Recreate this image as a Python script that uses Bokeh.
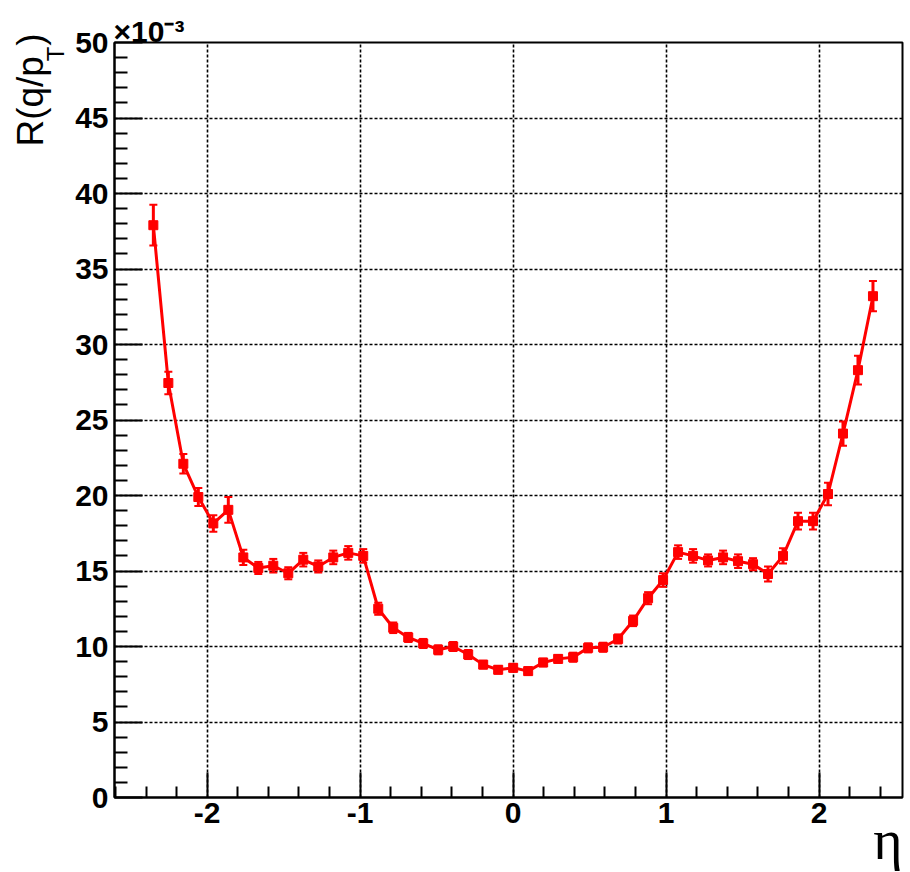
from bokeh.embed import file_html
from bokeh.models import (ColumnDataSource, FixedTicker, PrintfTickFormatter, Range1d,
                          TeeHead, Title, Whisker)
from bokeh.plotting import figure
from bokeh.resources import INLINE

# Bin centres in pseudorapidity
eta = [
    -2.352, -2.254, -2.156, -2.058, -1.960, -1.862, -1.764, -1.666, -1.568, -1.470,
    -1.372, -1.274, -1.176, -1.078, -0.980, -0.882, -0.784, -0.686, -0.588, -0.490,
    -0.392, -0.294, -0.196, -0.098, 0.000, 0.098, 0.196, 0.294, 0.392, 0.490,
    0.588, 0.686, 0.784, 0.882, 0.980, 1.078, 1.176, 1.274, 1.372, 1.470,
    1.568, 1.666, 1.764, 1.862, 1.960, 2.058, 2.156, 2.254, 2.352,
]

# q/pT resolution, in units of 10^-3
resolution = [
    37.9, 27.45, 22.1, 19.9, 18.15, 19.05, 15.9, 15.2, 15.35, 14.85,
    15.75, 15.3, 15.9, 16.2, 16.0, 12.5, 11.24, 10.6, 10.2, 9.78,
    10.0, 9.47, 8.8, 8.46, 8.59, 8.37, 8.94, 9.18, 9.29, 9.91,
    9.95, 10.5, 11.7, 13.2, 14.4, 16.25, 16.0, 15.7, 15.9, 15.65,
    15.45, 14.8, 16.0, 18.3, 18.3, 20.1, 24.1, 28.3, 33.2,
]

# statistical uncertainty, in units of 10^-3
resolution_err = [
    1.35, 0.75, 0.65, 0.6, 0.55, 0.85, 0.5, 0.4, 0.45, 0.4,
    0.45, 0.4, 0.45, 0.45, 0.45, 0.4, 0.35, 0.3, 0.3, 0.3,
    0.3, 0.3, 0.25, 0.25, 0.25, 0.25, 0.25, 0.25, 0.3, 0.3,
    0.3, 0.3, 0.35, 0.4, 0.45, 0.45, 0.45, 0.4, 0.45, 0.45,
    0.4, 0.5, 0.5, 0.55, 0.55, 0.75, 0.8, 0.95, 1.0,
]

x_major = [-2, -1, 0, 1, 2]
y_major = [0, 5, 10, 15, 20, 25, 30, 35, 40, 45, 50]

RED = "#ff0000"
FONT = "Liberation Sans"

src = ColumnDataSource(dict(
    eta=eta,
    res=resolution,
    lo=[r - e for r, e in zip(resolution, resolution_err)],
    hi=[r + e for r, e in zip(resolution, resolution_err)],
))

p = figure(
    width=910, height=872,
    x_range=Range1d(-2.606, 2.545), y_range=Range1d(0, 50),
    output_backend="svg", toolbar_location=None, title_location=None,
    min_border_left=114, min_border_right=8, min_border_top=42, min_border_bottom=75,
    background_fill_color="white", border_fill_color="white",
)

# frame
p.outline_line_color = "black"
p.outline_line_width = 2
p.outline_line_alpha = 1.0

# axes with inward ticks
x_minor = [round(-2.6 + 0.2 * i, 1) for i in range(26)]
x_minor = [t for t in x_minor if abs(t - round(t)) > 1e-6]
y_minor = [i for i in range(51) if i % 5 != 0]

p.xaxis.ticker = FixedTicker(ticks=x_major, minor_ticks=x_minor)
p.yaxis.ticker = FixedTicker(ticks=y_major, minor_ticks=y_minor)

for ax in (p.xaxis[0], p.yaxis[0]):
    ax.formatter = PrintfTickFormatter(format="%d")
    ax.axis_line_width = 2
    ax.axis_line_color = "black"
    ax.major_tick_line_width = 2
    ax.minor_tick_line_width = 2
    ax.major_tick_out = 0
    ax.minor_tick_out = 0
    ax.major_label_text_font = FONT
    ax.major_label_text_font_style = "bold"
    ax.major_label_text_font_size = "30px"
    ax.major_label_text_color = "black"

p.xaxis.major_tick_in = 25
p.xaxis.minor_tick_in = 11
p.xaxis.major_label_standoff = 5
p.yaxis.major_tick_in = 28
p.yaxis.minor_tick_in = 13
p.yaxis.major_label_standoff = 6

# dotted grid at major ticks
p.xgrid.ticker = FixedTicker(ticks=x_major)
p.ygrid.ticker = FixedTicker(ticks=y_major)
for g in (p.xgrid[0], p.ygrid[0]):
    g.grid_line_color = "black"
    g.grid_line_width = 1.6
    g.grid_line_dash = "3 2"
    g.grid_line_alpha = 1.0

# data: connecting line, error bars, square markers
p.line("eta", "res", source=src, line_color=RED, line_width=3)
p.add_layout(Whisker(
    source=src, base="eta", lower="lo", upper="hi",
    line_color=RED, line_width=3,
    lower_head=TeeHead(size=8, line_color=RED, line_width=2),
    upper_head=TeeHead(size=8, line_color=RED, line_width=2),
))
p.scatter("eta", "res", source=src, marker="square", size=9,
          fill_color=RED, line_color=RED)

# y-axis title: subscript first (closer to the axis), then the main text
p.add_layout(Title(text="T", text_font=FONT, text_font_size="24px",
                   text_font_style="normal", text_color="black",
                   align="right", vertical_align="bottom",
                   offset=4, standoff=8), "left")
p.add_layout(Title(text="R(q/p )", text_font=FONT, text_font_size="37px",
                   text_font_style="normal", text_color="black",
                   align="right", vertical_align="bottom",
                   offset=-9, standoff=-31), "left")

# axis multiplier above the frame
p.add_layout(Title(text="\u00d710\u207b\u00b3", text_font=FONT, text_font_size="30px",
                   text_font_style="bold", text_color="black",
                   align="left", vertical_align="bottom",
                   offset=-1, standoff=-11), "above")

# x-axis title at the right end
p.add_layout(Title(text="\u03b7", text_font="Liberation Serif", text_font_size="56px",
                   text_font_style="normal", text_color="black",
                   align="right", vertical_align="top",
                   offset=0, standoff=-33), "below")

open("out.html", "w").write(file_html(p, INLINE))
